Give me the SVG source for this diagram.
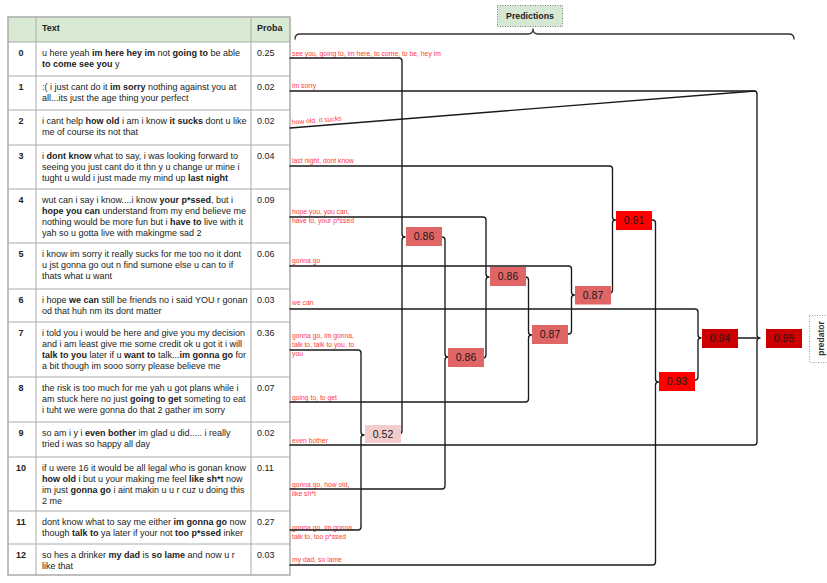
<svg xmlns="http://www.w3.org/2000/svg" width="827" height="583" viewBox="0 0 827 583">
<style>
.t{font-family:"Liberation Sans",Arial,sans-serif;font-size:9px;fill:#222}
.b{font-weight:bold}
.ix{font-family:"Liberation Sans",Arial,sans-serif;font-size:9px;font-weight:bold;fill:#222;text-anchor:middle}
.lbl{font-family:"Liberation Sans",Arial,sans-serif;font-size:6.8px;fill:#ff3b3b}
.bt{font-family:"Liberation Sans",Arial,sans-serif;font-size:10.5px;fill:#1a1a1a;text-anchor:middle}
.ln{fill:none;stroke:#1a1a1a;stroke-width:1.35;stroke-linejoin:round;stroke-linecap:round}
.g{stroke:#ababab;stroke-width:1;fill:none}
</style>
<rect width="827" height="583" fill="#ffffff"/>

<g id="table">
<rect x="8" y="17" width="282" height="25" fill="#d9ead3"/>
<g class="g">
<line x1="8" y1="42" x2="290" y2="42"/>
<line x1="8" y1="76" x2="290" y2="76"/>
<line x1="8" y1="110" x2="290" y2="110"/>
<line x1="8" y1="145" x2="290" y2="145"/>
<line x1="8" y1="189" x2="290" y2="189"/>
<line x1="8" y1="243" x2="290" y2="243"/>
<line x1="8" y1="289" x2="290" y2="289"/>
<line x1="8" y1="322" x2="290" y2="322"/>
<line x1="8" y1="377" x2="290" y2="377"/>
<line x1="8" y1="422" x2="290" y2="422"/>
<line x1="8" y1="457" x2="290" y2="457"/>
<line x1="8" y1="511" x2="290" y2="511"/>
<line x1="8" y1="544" x2="290" y2="544"/>
<line x1="36" y1="17" x2="36" y2="575"/>
<line x1="251" y1="17" x2="251" y2="575"/>
<rect x="8" y="17" width="282" height="558" stroke-width="1.5"/>
</g>
<text class="t b" x="42" y="31">Text</text>
<text class="t b" x="257" y="31">Proba</text>

<g id="row0"><text class="ix" x="21" y="56.3">0</text>
<text class="t" x="42" y="56.3">u here yeah <tspan class="b">im here hey im</tspan> not <tspan class="b">going to</tspan> be able</text>
<text class="t" x="42" y="67.1"><tspan class="b">to come see you</tspan> y</text>
<text class="t" x="257" y="56.3">0.25</text></g>

<g id="row1"><text class="ix" x="21" y="90.3">1</text>
<text class="t" x="42" y="90.3">:( i just cant do it <tspan class="b">im sorry</tspan> nothing against you at</text>
<text class="t" x="42" y="101.1">all...its just the age thing your perfect</text>
<text class="t" x="257" y="90.3">0.02</text></g>

<g id="row2"><text class="ix" x="21" y="124.3">2</text>
<text class="t" x="42" y="124.3">i cant help <tspan class="b">how old</tspan> i am i know <tspan class="b">it sucks</tspan> dont u like</text>
<text class="t" x="42" y="135.1">me of course its not that</text>
<text class="t" x="257" y="124.3">0.02</text></g>

<g id="row3"><text class="ix" x="21" y="159.3">3</text>
<text class="t" x="42" y="159.3">i <tspan class="b">dont know</tspan> what to say, i was looking forward to</text>
<text class="t" x="42" y="170.1">seeing you just cant do it thn y u change ur mine i</text>
<text class="t" x="42" y="180.9">tught u wuld i just made my mind up <tspan class="b">last night</tspan></text>
<text class="t" x="257" y="159.3">0.04</text></g>

<g id="row4"><text class="ix" x="21" y="203.3">4</text>
<text class="t" x="42" y="203.3">wut can i say i know....i know <tspan class="b">your p*ssed</tspan>, but i</text>
<text class="t" x="42" y="214.1"><tspan class="b">hope you can</tspan> understand from my end believe me</text>
<text class="t" x="42" y="224.9">nothing would be more fun but i <tspan class="b">have to</tspan> live with it</text>
<text class="t" x="42" y="235.7">yah so u gotta live with makingme sad 2</text>
<text class="t" x="257" y="203.3">0.09</text></g>

<g id="row5"><text class="ix" x="21" y="257.3">5</text>
<text class="t" x="42" y="257.3">i know im sorry it really sucks for me too no it dont</text>
<text class="t" x="42" y="268.1">u jst gonna go out n find sumone else u can to if</text>
<text class="t" x="42" y="278.9">thats what u want</text>
<text class="t" x="257" y="257.3">0.06</text></g>

<g id="row6"><text class="ix" x="21" y="303.3">6</text>
<text class="t" x="42" y="303.3">i hope <tspan class="b">we can</tspan> still be friends no i said YOU r gonan</text>
<text class="t" x="42" y="314.1">od that huh nm its dont matter</text>
<text class="t" x="257" y="303.3">0.03</text></g>

<g id="row7"><text class="ix" x="21" y="336.3">7</text>
<text class="t" x="42" y="336.3">i told you i would be here and give you my decision</text>
<text class="t" x="42" y="347.1">and i am least give me some credit ok u got it i will</text>
<text class="t" x="42" y="357.9"><tspan class="b">talk to you</tspan> later if u <tspan class="b">want to</tspan> talk...<tspan class="b">im gonna go</tspan> for</text>
<text class="t" x="42" y="368.7">a bit though im sooo sorry please believe me</text>
<text class="t" x="257" y="336.3">0.36</text></g>

<g id="row8"><text class="ix" x="21" y="391.3">8</text>
<text class="t" x="42" y="391.3">the risk is too much for me yah u got plans while i</text>
<text class="t" x="42" y="402.1">am stuck here no just <tspan class="b">going to get</tspan> someting to eat</text>
<text class="t" x="42" y="412.9">i tuht we were gonna do that 2 gather im sorry</text>
<text class="t" x="257" y="391.3">0.07</text></g>

<g id="row9"><text class="ix" x="21" y="436.3">9</text>
<text class="t" x="42" y="436.3">so am i y i <tspan class="b">even bother</tspan> im glad u did..... i really</text>
<text class="t" x="42" y="447.1">tried i was so happy all day</text>
<text class="t" x="257" y="436.3">0.02</text></g>

<g id="row10"><text class="ix" x="21" y="471.3">10</text>
<text class="t" x="42" y="471.3">if u were 16 it would be all legal who is gonan know</text>
<text class="t" x="42" y="482.1"><tspan class="b">how old</tspan> i but u your making me feel <tspan class="b">like sh*t</tspan> now</text>
<text class="t" x="42" y="492.9">im just <tspan class="b">gonna go</tspan> i aint makin u u r cuz u doing this</text>
<text class="t" x="42" y="503.7">2 me</text>
<text class="t" x="257" y="471.3">0.11</text></g>

<g id="row11"><text class="ix" x="21" y="525.3">11</text>
<text class="t" x="42" y="525.3">dont know what to say me either <tspan class="b">im gonna go</tspan> now</text>
<text class="t" x="42" y="536.1">though <tspan class="b">talk to</tspan> ya later if your not <tspan class="b">too p*ssed</tspan> inker</text>
<text class="t" x="257" y="525.3">0.27</text></g>

<g id="row12"><text class="ix" x="21" y="558.3">12</text>
<text class="t" x="42" y="558.3">so hes a drinker <tspan class="b">my dad</tspan> is <tspan class="b">so lame</tspan> and now u r</text>
<text class="t" x="42" y="569.1">like that</text>
<text class="t" x="257" y="558.3">0.03</text></g>
</g>

<g id="labels">
<text class="lbl" x="292" y="55.5">see you, going to, im here, to come, to be, hey im</text>
<text class="lbl" x="292" y="87.5">im sorry</text>
<text class="lbl" x="292" y="124.5" transform="rotate(-4.5 292 124.5)">how old, it sucks</text>
<text class="lbl" x="292" y="163">last night, dont know</text>
<text class="lbl" x="292" y="214">hope you, you can,</text>
<text class="lbl" x="292" y="223">have to, your p*ssed</text>
<text class="lbl" x="292" y="263">gonna go</text>
<text class="lbl" x="292" y="305">we can</text>
<text class="lbl" x="292" y="338">gonna go, im gonna,</text>
<text class="lbl" x="292" y="347">talk to, talk to you, to</text>
<text class="lbl" x="292" y="355.5">you</text>
<text class="lbl" x="292" y="400">going to, to get</text>
<text class="lbl" x="292" y="443">even bother</text>
<text class="lbl" x="292" y="487">gonna go, how old,</text>
<text class="lbl" x="292" y="496">like sh*t</text>
<text class="lbl" x="292" y="530">gonna go, im gonna,</text>
<text class="lbl" x="292" y="538.5">talk to, too p*ssed</text>
<text class="lbl" x="292" y="562">my dad, so lame</text>
</g>

<g id="connectors" class="ln">
<path d="M295,39 Q295,34 300,34 H528 Q533,34 533,29 Q533,34 538,34 H789 Q794,34 794,39" stroke="#333"/>
<path d="M290,350 H358 Q361,350 361,353 V432 Q361,435 364,435 Q361,435 361,438 V527 Q361,530 358,530 H290"/>
<path d="M290,58 H399 Q402,58 402,61 V234 Q402,237 405,237 Q402,237 402,240 V431 Q402,434 399,434"/>
<path d="M439,237 H442 Q445,237 445,240 V354 Q445,357 448,357 Q445,357 445,360 V486 Q445,489 442,489 H290"/>
<path d="M290,217 H483 Q486,217 486,220 V274 Q486,277 489,277 Q486,277 486,280 V355 Q486,358 483,358 H480"/>
<path d="M522,277 H525.5 Q528.5,277 528.5,280 V332 Q528.5,335 531.5,335 Q528.5,335 528.5,338 V399 Q528.5,402 525.5,402 H290"/>
<path d="M290,266 H568.5 Q571.5,266 571.5,269 V292 Q571.5,295 574.5,295 Q571.5,295 571.5,298 V331 Q571.5,334 568.5,334 H565"/>
<path d="M290,166 H609.5 Q612.5,166 612.5,169 V217 Q612.5,220 615.5,220 Q612.5,220 612.5,223 V290 Q612.5,293 609.5,293 H607"/>
<path d="M648,220 H652.5 Q655.5,220 655.5,223 V379 Q655.5,382 658.5,382 Q655.5,382 655.5,385 V562 Q655.5,565 652.5,565 H290"/>
<path d="M290,309 H695 Q698,309 698,312 V335 Q698,338 701,338 Q698,338 698,341 V377 Q698,380 695,380 H691"/>
<path d="M290,91 H754 Q757,91 757,94 V335 Q757,338 760,338 Q757,338 757,341 V442 Q757,445 754,445 H290"/>
<path d="M738,338 H757"/>
<path d="M290,128 L755,91"/>
</g>

<g id="n052"><rect x="365" y="425" width="36" height="18" fill="#f4cccc"/><text class="bt" x="383" y="438">0.52</text></g>
<g id="n086a"><rect x="406" y="227" width="36" height="19" fill="#e06666"/><text class="bt" x="424" y="240.3">0.86</text></g>
<g id="n086b"><rect x="448" y="348" width="36" height="19" fill="#e06666"/><text class="bt" x="466" y="361.3">0.86</text></g>
<g id="n086c"><rect x="490" y="267" width="36" height="19" fill="#e06666"/><text class="bt" x="508" y="280.3">0.86</text></g>
<g id="n087a"><rect x="532" y="325" width="36" height="19" fill="#e06666"/><text class="bt" x="550" y="338.3">0.87</text></g>
<g id="n087b"><rect x="575" y="286" width="36" height="18.5" fill="#e06666"/><text class="bt" x="593" y="299">0.87</text></g>
<g id="n091"><rect x="616" y="211" width="36" height="19" fill="#ff0000"/><text class="bt" x="634" y="224.3">0.91</text></g>
<g id="n093"><rect x="659" y="372" width="36" height="19" fill="#ff0000"/><text class="bt" x="677" y="385.3">0.93</text></g>
<g id="n094"><rect x="702" y="329" width="36" height="19" fill="#cc0000"/><text class="bt" x="720" y="342.3">0.94</text></g>
<g id="n095"><rect x="766" y="329" width="36" height="19" fill="#cc0000"/><text class="bt" x="784" y="342.3">0.95</text></g>

<g id="predictions">
<rect x="497.5" y="5.5" width="65" height="21" fill="#d5e8d4" stroke="#6f8a63" stroke-width="1" stroke-dasharray="1 1.5"/>
<text x="530" y="19" text-anchor="middle" font-family="Liberation Sans, Arial, sans-serif" font-size="8.8" font-weight="bold" fill="#222">Predictions</text>
</g>

<g id="predator">
<rect x="809.5" y="315.5" width="25" height="47" fill="none" stroke="#999" stroke-width="1" stroke-dasharray="1 1.5"/>
<text transform="translate(824,338.5) rotate(-90)" text-anchor="middle" font-family="Liberation Sans, Arial, sans-serif" font-size="8.5" font-weight="bold" fill="#333">predator</text>
</g>
</svg>
